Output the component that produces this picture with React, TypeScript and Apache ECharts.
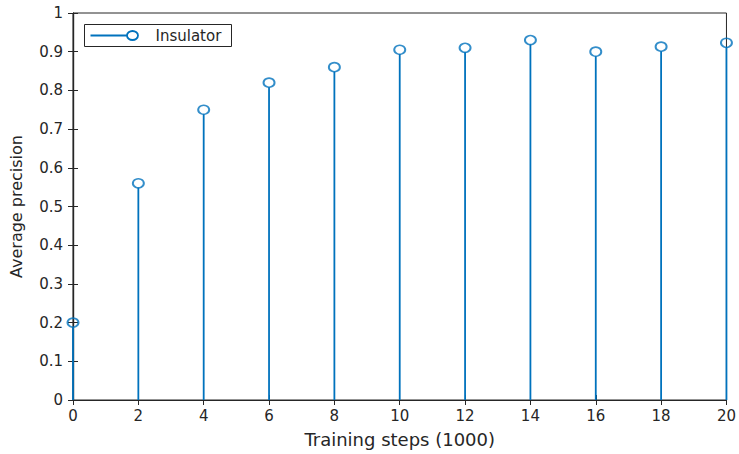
import React, { useEffect, useRef } from "react";
import * as echarts from "echarts";

const steps = [0, 2, 4, 6, 8, 10, 12, 14, 16, 18, 20];
const precision = [0.2, 0.56, 0.75, 0.82, 0.86, 0.905, 0.91, 0.93, 0.9, 0.913, 0.923];
const seriesName = "Insulator";
const xTitle = "Training steps (1000)";
const yTitle = "Average precision";

const BLUE = "#0072BD";
const AX = "#262626";
const FONT = "DejaVu Sans, Arial, sans-serif";

export default function App() {
  const ref = useRef<HTMLDivElement>(null);
  useEffect(() => {
    document.body.style.margin = "0";
    const chart = echarts.init(ref.current!, undefined, { renderer: "svg" });
    const pts = steps.map((s, i) => [s, precision[i]]);
    const tickStyle = { show: true, inside: true, length: 5, lineStyle: { color: AX, width: 1 } };
    chart.setOption({
      animation: false,
      backgroundColor: "#fff",
      grid: { left: 73, right: 10, top: 13, bottom: 54, show: true, borderColor: AX, borderWidth: 1 },
      xAxis: [
        {
          type: "value", min: 0, max: 20, interval: 2,
          name: xTitle, nameLocation: "middle", nameGap: 30,
          nameTextStyle: { color: AX, fontFamily: FONT, fontSize: 18 },
          axisLine: { show: true, lineStyle: { color: AX, width: 1.2 } },
          axisTick: tickStyle,
          axisLabel: { color: AX, fontFamily: FONT, fontSize: 15, margin: 8 },
          splitLine: { show: false },
        },
        {
          type: "value", min: 0, max: 20, interval: 2, position: "top",
          axisLine: { show: true, lineStyle: { color: AX, width: 1.2 } },
          axisTick: tickStyle, axisLabel: { show: false }, splitLine: { show: false },
        },
      ],
      yAxis: [
        {
          type: "value", min: 0, max: 1, interval: 0.1,
          name: yTitle, nameLocation: "middle", nameGap: 49,
          nameTextStyle: { color: AX, fontFamily: FONT, fontSize: 16 },
          axisLine: { show: true, lineStyle: { color: AX, width: 1.2 } },
          axisTick: tickStyle,
          axisLabel: { color: AX, fontFamily: FONT, fontSize: 15, margin: 10 },
          splitLine: { show: false },
        },
        {
          type: "value", min: 0, max: 1, interval: 0.1, position: "right",
          axisLine: { show: true, lineStyle: { color: AX, width: 1.2 } },
          axisTick: tickStyle, axisLabel: { show: false }, splitLine: { show: false },
        },
      ],
      series: [
        {
          type: "custom",
          name: seriesName,
          data: pts,
          renderItem: (params: any, api: any) => {
            const top = api.coord([api.value(0), api.value(1)]);
            const base = api.coord([api.value(0), 0]);
            return {
              type: "line",
              shape: { x1: base[0], y1: base[1], x2: top[0], y2: top[1] + 4.5 },
              style: { stroke: BLUE, lineWidth: 1.8 },
            };
          },
          z: 3,
        },
        {
          type: "scatter",
          name: seriesName,
          data: pts,
          symbol: "circle",
          symbolSize: [11, 9],
          itemStyle: { color: "rgba(0,0,0,0)", borderColor: BLUE, borderWidth: 1.8 },
          z: 4,
        },
      ],
      graphic: [
        {
          type: "group", left: 84, top: 24,
          children: [
            { type: "rect", shape: { x: 0, y: 0, width: 147, height: 22 }, style: { fill: "#fff", stroke: AX, lineWidth: 1 } },
            { type: "line", shape: { x1: 6, y1: 11, x2: 43, y2: 11 }, style: { stroke: BLUE, lineWidth: 1.8 } },
            { type: "ellipse", shape: { cx: 48, cy: 11, rx: 5.5, ry: 4.5 }, style: { fill: "#fff", stroke: BLUE, lineWidth: 1.8 } },
            { type: "text", x: 71, y: 11, style: { text: seriesName, fill: AX, font: `15px ${FONT}`, textVerticalAlign: "middle", verticalAlign: "middle" } },
          ],
        },
      ],
    });
    return () => chart.dispose();
  }, []);
  return <div ref={ref} style={{ width: 739, height: 454 }} />;
}
